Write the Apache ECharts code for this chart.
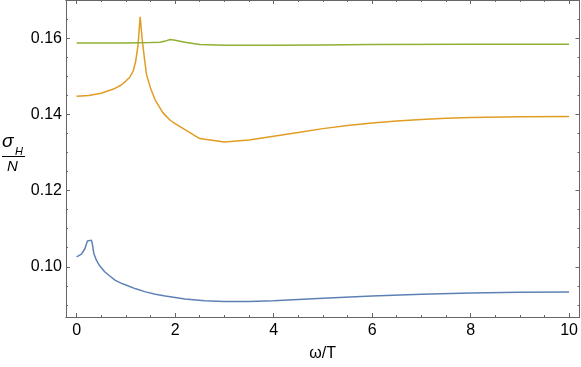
<!DOCTYPE html>
<html>
<head>
<meta charset="utf-8">
<script src="https://cdn.jsdelivr.net/npm/echarts@6/dist/echarts.min.js"></script>
<style>
  html, body { margin: 0; padding: 0; background: #fff; }
  #chart { width: 581px; height: 367px; }
</style>
</head>
<body>
<div id="chart"></div>
<script>
// data: [omega/T, sigma_H/N]
var blueData = [
  [0, 0.1026], [0.1, 0.1033], [0.17, 0.1048], [0.22, 0.1068], [0.25, 0.1070],
  [0.3, 0.1070], [0.32, 0.1060], [0.35, 0.1035], [0.4, 0.1018], [0.46, 0.1004],
  [0.57, 0.0987], [0.68, 0.0975], [0.78, 0.0965], [0.9, 0.0957], [1.0, 0.0952],
  [1.2, 0.0942], [1.4, 0.0934], [1.6, 0.0928], [1.8, 0.0923], [2.2, 0.0915],
  [2.6, 0.0911], [3.0, 0.0909], [3.5, 0.0909], [4, 0.0911], [5, 0.0917],
  [6, 0.0923], [7, 0.0928], [8, 0.0931], [9, 0.0933], [10, 0.0934]
];
var orangeData = [
  [0, 0.1448], [0.25, 0.1450], [0.5, 0.1456], [0.75, 0.1467], [0.9, 0.1477],
  [1.0, 0.1488], [1.08, 0.1498], [1.15, 0.1515], [1.2, 0.1540], [1.25, 0.1585],
  [1.29, 0.1657], [1.33, 0.1600], [1.38, 0.1545], [1.42, 0.1505], [1.5, 0.1470],
  [1.6, 0.1437], [1.75, 0.1405], [1.9, 0.1385], [2.0, 0.1376], [2.5, 0.1337],
  [3.0, 0.1328], [3.5, 0.1333], [4.0, 0.1343], [4.5, 0.1353], [5.0, 0.1363],
  [5.5, 0.1371], [6.0, 0.1378], [6.5, 0.1383], [7.0, 0.1387], [7.5, 0.1390],
  [8.0, 0.1392], [9.0, 0.1394], [10, 0.1395]
];
var greenData = [
  [0, 0.1588], [1, 0.1588], [1.5, 0.1589], [1.7, 0.1590], [1.8, 0.1593],
  [1.9, 0.1597], [2.0, 0.1595], [2.2, 0.1590], [2.5, 0.1584], [3, 0.1582],
  [4, 0.1582], [5, 0.1583], [6, 0.1584], [8, 0.1585], [10, 0.1585]
];

// tick positions
var xMajor = [0, 2, 4, 6, 8, 10];
var xMinor = [0.5, 1, 1.5, 2.5, 3, 3.5, 4.5, 5, 5.5, 6.5, 7, 7.5, 8.5, 9, 9.5];
var yMajor = [0.10, 0.12, 0.14, 0.16];
var yMinor = [0.09, 0.095, 0.105, 0.11, 0.115, 0.125, 0.13, 0.135, 0.145, 0.15, 0.155, 0.165];

var xMin = -0.215, xMax = 10.21;
var yMin = 0.0868, yMax = 0.1701;
var frameColor = '#666';
var fontFam = '"Liberation Sans", Arial, sans-serif';

function xAx(pos, ticks, len, withLabel) {
  return {
    type: 'value', position: pos, min: xMin, max: xMax,
    axisLine: { show: true, onZero: false, lineStyle: { color: frameColor, width: 1 } },
    axisTick: { show: true, inside: true, length: len, customValues: ticks, lineStyle: { color: frameColor } },
    axisLabel: withLabel ? {
      show: true, customValues: ticks, margin: 6, color: '#000', fontSize: 16, fontFamily: fontFam
    } : { show: false },
    splitLine: { show: false }
  };
}
function yAx(pos, ticks, len, withLabel) {
  return {
    type: 'value', position: pos, min: yMin, max: yMax,
    axisLine: { show: true, onZero: false, lineStyle: { color: frameColor, width: 1 } },
    axisTick: { show: true, inside: true, length: len, customValues: ticks, lineStyle: { color: frameColor } },
    axisLabel: withLabel ? {
      show: true, customValues: ticks, margin: 4, color: '#000', fontSize: 16, fontFamily: fontFam,
      formatter: function (v) { return v.toFixed(2); }
    } : { show: false },
    splitLine: { show: false }
  };
}

var chart = echarts.init(document.getElementById('chart'));
var xMain = xAx('bottom', xMajor, 4, true);
xMain.name = 'ω/T';
xMain.nameLocation = 'middle';
xMain.nameGap = 29;
xMain.nameTextStyle = { color: '#000', fontSize: 16, fontFamily: fontFam };

chart.setOption({
  animation: false,
  grid: { left: 66, right: 1, top: 0, bottom: 50, containLabel: false },
  xAxis: [
    xMain,
    xAx('bottom', xMinor, 2, false),
    xAx('top', xMajor, 4, false),
    xAx('top', xMinor, 2, false)
  ],
  yAxis: [
    yAx('left', yMajor, 4, true),
    yAx('left', yMinor, 2, false),
    yAx('right', yMajor, 4, false),
    yAx('right', yMinor, 2, false)
  ],
  graphic: [
    { type: 'text', left: 2, top: 132, style: { text: 'σ', fontSize: 19, fontStyle: 'italic', fontFamily: fontFam, fill: '#000' } },
    { type: 'text', left: 15, top: 146, style: { text: 'H', fontSize: 11, fontStyle: 'italic', fontFamily: fontFam, fill: '#000' } },
    { type: 'line', shape: { x1: 2, y1: 156.5, x2: 25, y2: 156.5 }, style: { stroke: '#000', lineWidth: 1 } },
    { type: 'text', left: 7, top: 159, style: { text: 'N', fontSize: 15, fontStyle: 'italic', fontFamily: fontFam, fill: '#000' } }
  ],
  series: [
    { type: 'line', data: blueData, xAxisIndex: 0, yAxisIndex: 0, showSymbol: false,
      lineStyle: { color: '#5E81B5', width: 1.5 }, itemStyle: { color: '#5E81B5' } },
    { type: 'line', data: orangeData, xAxisIndex: 0, yAxisIndex: 0, showSymbol: false,
      lineStyle: { color: '#E19C24', width: 1.5 }, itemStyle: { color: '#E19C24' } },
    { type: 'line', data: greenData, xAxisIndex: 0, yAxisIndex: 0, showSymbol: false,
      lineStyle: { color: '#8FB032', width: 1.5 }, itemStyle: { color: '#8FB032' } }
  ]
});
</script>
</body>
</html>
